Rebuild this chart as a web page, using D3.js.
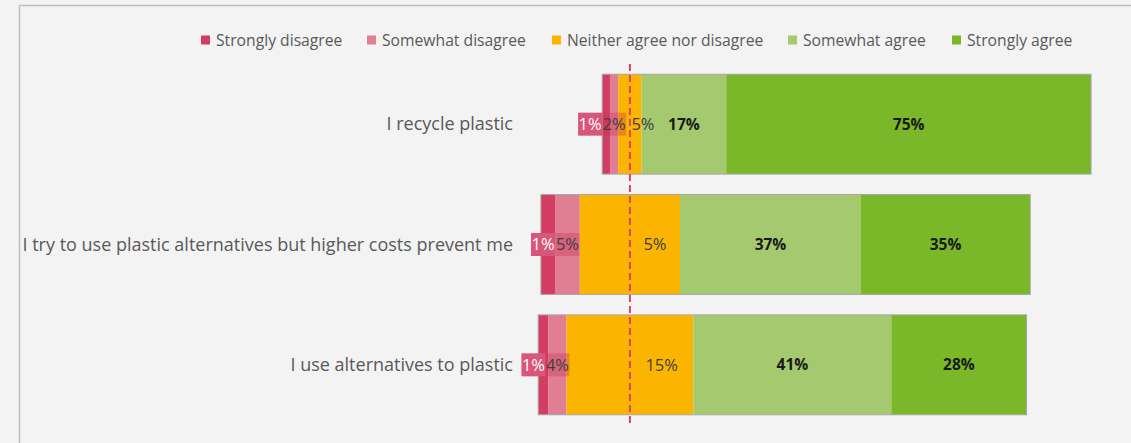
<!DOCTYPE html>
<html>
<head>
<meta charset="utf-8">
<script src="https://cdn.jsdelivr.net/npm/d3@7"></script>
<style>
  body { margin: 0; background: #f3f3f3; }
  svg { display: block; }
</style>
</head>
<body>
<svg id="chart" width="1131" height="443"></svg>
<script>
const width = 1131, height = 443

// data (bar widths in %, labels as printed)
const categories = ["I recycle plastic", "I try to use plastic alternatives but higher costs prevent me", "I use alternatives to plastic"]
const responses = ["Strongly disagree", "Somewhat disagree", "Neither agree nor disagree", "Somewhat agree", "Strongly agree"]
const stronglyDisagree = [1.6, 2.9, 2.1]
const somewhatDisagree = [1.7, 5.1, 3.7]
const neither = [4.8, 20.6, 26.1]
const somewhatAgree = [17.4, 37.2, 40.7]
const stronglyAgree = [75, 34.8, 27.8]
const sdLabels = ["1%", "1%", "1%"]
const swdLabels = ["2%", "5%", "4%"]
const neitherLabels = ["5%", "5%", "15%"]
const swaLabels = ["17%", "37%", "41%"]
const saLabels = ["75%", "35%", "28%"]

const colors = ["#d43d63", "#e07e93", "#fbb400", "#a5c96e", "#7ab829"]
const legendX = [201, 367, 552, 788, 952]

const svg = d3.select("#chart")
const font = "'Open Sans', 'Noto Sans', sans-serif"

// chart area border
svg.append("path")
  .attr("d", `M19.5,${height + 5} V5.5 H${width + 5}`)
  .attr("fill", "none").attr("stroke", "#bfbfbf").attr("stroke-width", 1.5)

const x = d3.scaleLinear().domain([-30, 95]).range([484, 1092])
const y = d3.scaleBand().domain(categories).range([64, 425]).paddingInner(0.17).paddingOuter(0.085)

// build segments per category, neutral split around zero
const series = [stronglyDisagree, somewhatDisagree, neither, somewhatAgree, stronglyAgree]
const labels = [sdLabels, swdLabels, neitherLabels, swaLabels, saLabels]
const rows = categories.map((c, i) => {
  let start = -(stronglyDisagree[i] + somewhatDisagree[i] + neither[i] / 2)
  const segs = series.map((s, k) => {
    const seg = { cat: c, k: k, x0: start, x1: start + s[i], label: labels[k][i] }
    start += s[i]
    return seg
  })
  return { cat: c, segs: segs }
})

const bars = svg.append("g").selectAll("g").data(rows).enter().append("g")

bars.selectAll("rect.seg").data(d => d.segs).enter().append("rect")
  .attr("class", "seg")
  .attr("x", d => x(d.x0))
  .attr("y", d => y(d.cat))
  .attr("width", d => x(d.x1) - x(d.x0))
  .attr("height", y.bandwidth())
  .attr("fill", d => colors[d.k])

bars.append("rect")
  .attr("x", d => x(d.segs[0].x0))
  .attr("y", d => y(d.cat))
  .attr("width", d => x(d.segs[4].x1) - x(d.segs[0].x0))
  .attr("height", y.bandwidth())
  .attr("fill", "none").attr("stroke", "#a6a6a6").attr("stroke-width", 1)

// category labels
svg.append("g").selectAll("text").data(categories).enter().append("text")
  .attr("x", 513)
  .attr("y", d => y(d) + y.bandwidth() / 2)
  .attr("dy", "0.35em")
  .attr("text-anchor", "end")
  .style("font-family", font).style("font-size", "18px").style("fill", "#595959")
  .text(d => d)

// zero line
svg.append("line")
  .attr("x1", x(0)).attr("x2", x(0)).attr("y1", 64).attr("y2", 425)
  .attr("stroke", "#d9466b").attr("stroke-width", 2).attr("stroke-dasharray", "7,4")

// data labels
const lbl = svg.append("g")
rows.forEach(r => {
  const cy = y(r.cat) + y.bandwidth() / 2
  const s = r.segs
  // somewhat disagree box
  const swdC = (x(s[1].x0) + x(s[1].x1)) / 2
  const swdW = 24
  lbl.append("rect").attr("x", swdC - swdW / 2).attr("y", cy - 11.5).attr("width", swdW).attr("height", 23)
    .attr("fill", "rgba(200,50,85,0.35)")
  lbl.append("text").attr("x", swdC).attr("y", cy).attr("dy", "0.35em").attr("text-anchor", "middle")
    .style("font-family", font).style("font-size", "16.5px").style("fill", "#404040")
    .text(s[1].label)
  // strongly disagree box
  const sdRight = Math.min(x(s[0].x1), swdC - swdW / 2)
  const sdW = 24
  lbl.append("rect").attr("x", sdRight - sdW).attr("y", cy - 11.5).attr("width", sdW).attr("height", 23)
    .attr("fill", "#d9557a")
  lbl.append("text").attr("x", sdRight - sdW / 2).attr("y", cy).attr("dy", "0.35em").attr("text-anchor", "middle")
    .style("font-family", font).style("font-size", "16.5px").style("fill", "#fff")
    .text(s[0].label)
  // neutral label on the right half
  const nC = Math.max((x(0) + x(s[2].x1)) / 2, x(0) + 13)
  lbl.append("text").attr("x", nC).attr("y", cy).attr("dy", "0.35em").attr("text-anchor", "middle")
    .style("font-family", font).style("font-size", "16.5px").style("fill", "#404040")
    .text(s[2].label)
  // agree labels
  s.slice(3).forEach(d => {
    lbl.append("text").attr("x", (x(d.x0) + x(d.x1)) / 2).attr("y", cy).attr("dy", "0.35em")
      .attr("text-anchor", "middle")
      .style("font-family", font).style("font-size", "15.5px").style("font-weight", "700").style("fill", "#1a1a1a")
      .text(d.label)
  })
})

// legend
const legend = svg.append("g").selectAll("g").data(responses).enter().append("g")
  .attr("transform", (d, i) => `translate(${legendX[i]},40)`)
legend.append("rect").attr("x", 0).attr("y", -4.5).attr("width", 9).attr("height", 9)
  .attr("fill", (d, i) => colors[i])
legend.append("text").attr("x", 15).attr("y", 0).attr("dy", "0.35em")
  .style("font-family", font).style("font-size", "15.7px").style("fill", "#595959")
  .text(d => d)
</script>
</body>
</html>
